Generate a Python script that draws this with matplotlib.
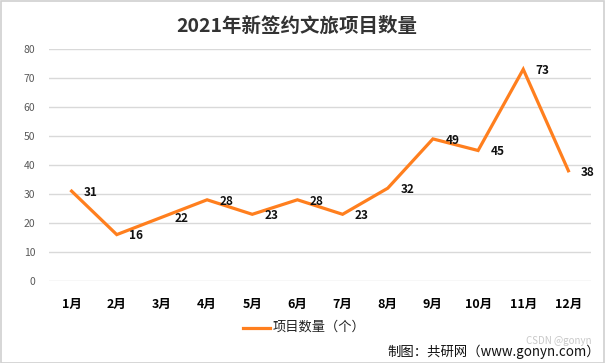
import matplotlib
matplotlib.use("Agg")
import matplotlib.pyplot as plt
from matplotlib.patches import Rectangle

plt.rcParams['font.family'] = ['Noto Sans CJK SC', 'DejaVu Sans']

# data
months = ['1月', '2月', '3月', '4月', '5月', '6月', '7月', '8月', '9月', '10月', '11月', '12月']
counts = [31, 16, 22, 28, 23, 28, 23, 32, 49, 45, 73, 38]
yticks = [0, 10, 20, 30, 40, 50, 60, 70, 80]

orange = '#FF7F1E'

fig = plt.figure(figsize=(6.05, 3.63), dpi=100)
ax = fig.add_axes([49/605, 1-281/363, (591-49)/605, (281-49)/363])

x = list(range(len(months)))
ax.plot(x, counts, color=orange, lw=2.3, solid_joinstyle='miter')

# data labels right of each point
for xi, v in zip(x, counts):
    ax.annotate(str(v), (xi, v), xytext=(9, -1), textcoords='offset points',
                ha='left', va='center', fontsize=8.5, fontweight='bold', color='#111111')

ax.set_xlim(-0.5, len(months) - 0.5)
ax.set_ylim(0, 80)
ax.set_yticks(yticks)
ax.set_xticks(x)
ax.set_xticklabels(months, fontsize=9, fontweight='bold')
ax.tick_params(axis='x', length=0, pad=12)
ax.tick_params(axis='y', length=0, pad=10, labelsize=7.5, labelcolor='#595959')
ax.grid(axis='y', color='#D9D9D9', lw=1)
ax.set_axisbelow(True)
for s in ax.spines.values():
    s.set_visible(False)

# title, legend, source
fig.text(297/605, 1-26/363, '2021年新签约文旅项目数量', ha='center', va='center',
         fontsize=14, fontweight='bold', color='#333333')
fig.add_artist(plt.Line2D([243/605, 270/605], [1-328/363, 1-328/363], color=orange, lw=2.3))
fig.text(273/605, 1-327/363, '项目数量（个）', ha='left', va='center', fontsize=9.5, color='#222222')
fig.text(387/605, 1-352/363, '制图：共研网（www.gonyn.com）', ha='left', va='center',
         fontsize=9.6, color='#111111')
fig.text(592/605, 1-341/363, 'CSDN @gonyn', ha='right', va='center', fontsize=7,
         color='#BBBBBB', alpha=0.8)

fig.add_artist(Rectangle((0.5/605, 0.5/363), 1-1.5/605, 1-1.5/363, transform=fig.transFigure,
                         fill=False, edgecolor='#D0D0D0', lw=1.2))

fig.savefig('out.png', dpi=100)
